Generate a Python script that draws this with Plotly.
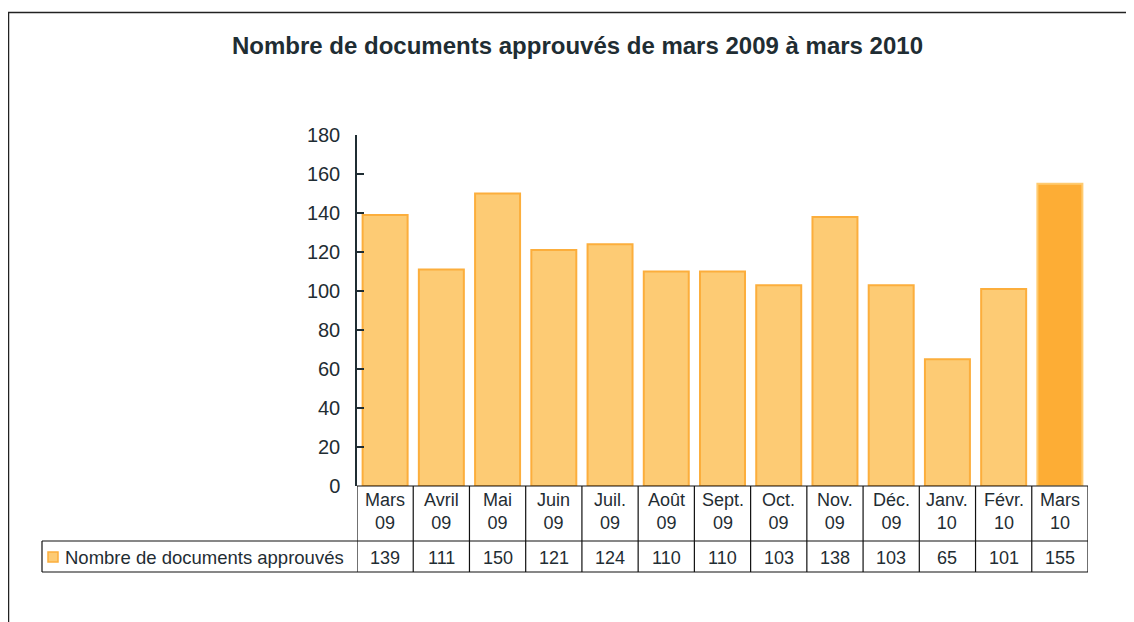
import plotly.graph_objects as go

title = "Nombre de documents approuvés de mars 2009 à mars 2010"
series_name = "Nombre de documents approuvés"
months = ["Mars", "Avril", "Mai", "Juin", "Juil.", "Août", "Sept.", "Oct.", "Nov.", "Déc.", "Janv.", "Févr.", "Mars"]
years = ["09", "09", "09", "09", "09", "09", "09", "09", "09", "09", "10", "10", "10"]
values = [139, 111, 150, 121, 124, 110, 110, 103, 138, 103, 65, 101, 155]
y_ticks = [0, 20, 40, 60, 80, 100, 120, 140, 160, 180]

# page body has an 8px margin; layout coords below are in screenshot pixels
OFF = 8
W, H = 1134, 622
L, R, T, B = 357, 1088, 135, 486
pw, ph = R - L, B - T

def px(x):
    return (x - L) / pw

def py(y):
    return (B - y) / ph

TXT = "#1F2D33"
FONT = "Liberation Sans, Arial, sans-serif"
NARROW = "Liberation Sans Narrow, Arial Narrow, Liberation Sans, sans-serif"

n = len(values)
cats = list(range(n))
fills = ["#FDCB74"] * (n - 1) + ["#FDAD35"]
lines = ["#FCAE3C"] * (n - 1) + ["#FFCB70"]

fig = go.Figure()
fig.add_trace(go.Bar(
    x=cats, y=values, width=0.8,
    marker=dict(color=fills, line=dict(color=lines, width=2)),
    showlegend=False, hoverinfo="y",
))

shapes = []
annotations = []

# outer frame
shapes.append(dict(type="rect", xref="paper", yref="paper",
                   x0=px(8.5), x1=px(1300), y0=py(12.5), y1=py(800),
                   line=dict(color="#222", width=1.5), layer="below"))

line_style = dict(color="#111", width=1.2)
shapes.append(dict(type="line", xref="paper", yref="paper", x0=0, x1=1, y0=py(486), y1=py(486), line=line_style))
shapes.append(dict(type="line", xref="paper", yref="paper", x0=px(42), x1=1, y0=py(541), y1=py(541), line=line_style))
shapes.append(dict(type="line", xref="paper", yref="paper", x0=px(42), x1=1, y0=py(572), y1=py(572), line=line_style))
shapes.append(dict(type="line", xref="paper", yref="paper", x0=px(42), x1=px(42), y0=py(541), y1=py(572), line=line_style))
for i in range(n + 1):
    shapes.append(dict(type="line", xref="x", yref="paper", x0=i - 0.5, x1=i - 0.5,
                       y0=py(486), y1=py(572), line=line_style))

# legend marker
shapes.append(dict(type="rect", xref="paper", yref="paper",
                   x0=px(48), x1=px(58), y0=py(552), y1=py(562),
                   fillcolor="#FDCB74", line=dict(color="#FCAE3C", width=1.5)))
annotations.append(dict(xref="paper", yref="paper", x=px(63), y=py(557), text=series_name,
                        showarrow=False, xanchor="left", yanchor="middle",
                        font=dict(family=FONT, size=18.5, color=TXT)))

for i in range(n):
    annotations.append(dict(xref="x", yref="paper", x=cats[i], y=py(512),
                            text=f"{months[i]}<br>{years[i]}", showarrow=False,
                            xanchor="center", yanchor="middle",
                            font=dict(family=FONT, size=18, color=TXT)))
    annotations.append(dict(xref="x", yref="paper", x=cats[i], y=py(558),
                            text=str(values[i]), showarrow=False,
                            xanchor="center", yanchor="middle",
                            font=dict(family=NARROW, size=18, color=TXT)))

annotations.append(dict(xref="paper", yref="paper", x=px(577), y=py(45), text=f"<b>{title}</b>",
                        showarrow=False, xanchor="center", yanchor="middle",
                        font=dict(family=FONT, size=24, color=TXT)))

fig.update_layout(
    width=W - OFF, height=H - OFF,
    margin=dict(l=L - OFF, r=W - R, t=T - OFF, b=H - B, pad=0),
    paper_bgcolor="white", plot_bgcolor="white",
    shapes=shapes, annotations=annotations,
    xaxis=dict(range=[-0.5, n - 0.5], showticklabels=False, ticks="", showgrid=False,
               zeroline=False, showline=False, fixedrange=True),
    yaxis=dict(range=[0, 180], tickvals=y_ticks, ticks="inside", ticklen=7, tickwidth=1.5,
               tickcolor="#1F2D33", showline=True, linecolor="#1F2D33", linewidth=1.5,
               showgrid=False, zeroline=False, ticklabelstandoff=11,
               tickfont=dict(family=FONT, size=20, color=TXT), fixedrange=True),
    bargap=0.2,
)

fig.write_html("out.html")
